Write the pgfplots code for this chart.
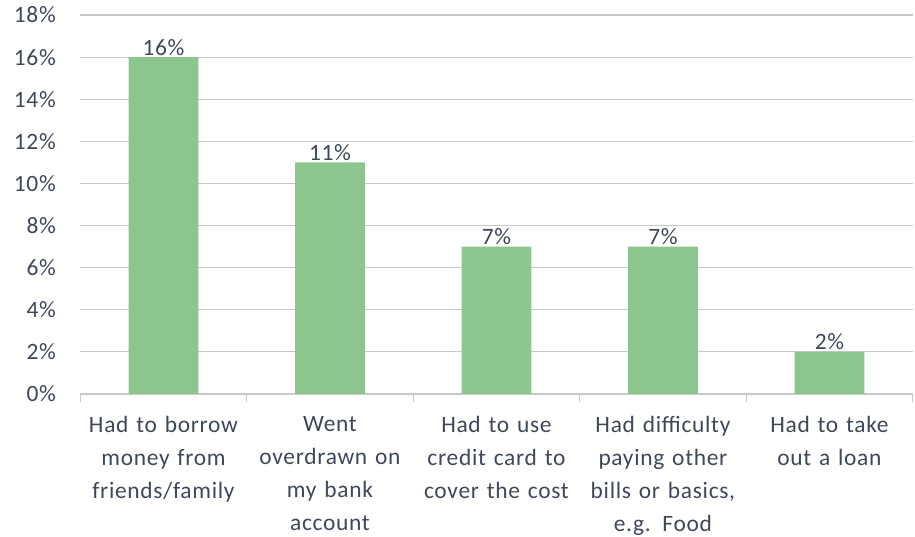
\documentclass[border=0pt]{standalone}
\usepackage{pgfplots}
\pgfplotsset{compat=1.18}
\usepackage{fontspec}
\setmainfont[LetterSpace=3]{Carlito}
\definecolor{bargreen}{RGB}{140,198,140}
\definecolor{txt}{RGB}{62,72,88}
\definecolor{gridc}{RGB}{200,200,200}
\begin{document}
\begin{tikzpicture}
\begin{axis}[
  scale only axis,
  width=835pt, height=380pt,
  xmin=-0.5, xmax=4.5,
  ymin=0, ymax=18,
  ytick={0,2,...,18},
  yticklabel={\pgfmathprintnumber{\tick}\%},
  /pgf/number format/assume math mode=true,
  ymajorgrids,
  major grid style={gridc, line width=1.2pt},
  axis x line*=bottom,
  axis y line*=left,
  y axis line style={draw=none},
  x axis line style={gridc, line width=1.2pt},
  xtick={0,1,2,3,4},
  xticklabels={{Had to borrow\\money from\\friends/family},{Went\\overdrawn on\\my bank\\account},{Had to use\\credit card to\\cover the cost},{Had difficulty\\paying other\\bills or basics,\\e.g. Food},{Had to take\\out a loan}},
  x tick label style={align=center, text width=165pt, font=\fontsize{23.5}{33}\selectfont, text=txt, yshift=-17pt, inner ysep=1pt},
  major x tick style={draw=none},
  minor xtick={-0.5,0.5,1.5,2.5,3.5,4.5},
  minor tick length=8pt,
  minor x tick style={gridc, line width=1.2pt},
  tick align=outside,
  y tick label style={font=\fontsize{23.5}{26}\selectfont, text=txt, xshift=-20pt, text width=56pt, align=right, anchor=east, inner xsep=0pt, inner ysep=7pt},
  major y tick style={draw=none},
  ybar, bar width=70pt,
  nodes near coords={\pgfmathprintnumber{\pgfplotspointmeta}\%},
  nodes near coords style={font=\fontsize{23.5}{26}\selectfont, text=txt, inner sep=1.5pt},
  clip=false,
]
\addplot[fill=bargreen, draw=none] coordinates {(0,16) (1,11) (2,7) (3,7) (4,2)};
\end{axis}
\end{tikzpicture}
\end{document}
